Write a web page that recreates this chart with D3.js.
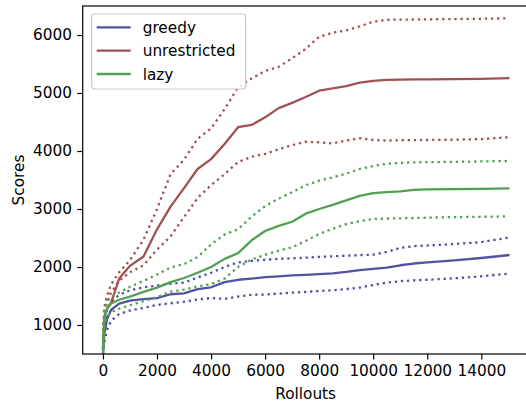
<!DOCTYPE html>
<html>
<head>
<meta charset="utf-8">
<script src="https://cdn.jsdelivr.net/npm/d3@7"></script>
<style>
  html, body { margin: 0; padding: 0; background: #fff; }
  svg { display: block; }
  text { font-family: "DejaVu Sans", sans-serif; fill: #000; }
</style>
</head>
<body>
<svg id="chart" width="526" height="406"></svg>
<script>
// ---- data ----
const rollouts = [0, 50, 150, 300, 600, 1000, 1500, 2000, 2500, 3000, 3500, 4000, 4500, 5000, 5500, 6000, 6500, 7000, 7500, 8000, 8500, 9000, 9500, 10000, 10500, 11000, 11500, 12000, 13000, 14000, 15000];

const greedyMean = [500, 850, 1100, 1260, 1370, 1420, 1445, 1465, 1530, 1545, 1620, 1650, 1740, 1780, 1800, 1825, 1840, 1855, 1865, 1878, 1890, 1915, 1945, 1966, 1990, 2030, 2060, 2078, 2115, 2155, 2205];
const greedyHigh = [600, 1000, 1250, 1400, 1520, 1600, 1650, 1680, 1710, 1730, 1820, 1900, 2000, 2080, 2105, 2125, 2140, 2150, 2160, 2175, 2185, 2195, 2205, 2212, 2260, 2330, 2360, 2370, 2395, 2430, 2505];
const greedyLow = [500, 700, 920, 1070, 1190, 1250, 1295, 1345, 1375, 1400, 1440, 1465, 1450, 1490, 1520, 1525, 1540, 1558, 1570, 1585, 1600, 1620, 1645, 1690, 1730, 1755, 1770, 1780, 1805, 1840, 1885];

const unrestrictedMean = [600, 1150, 1280, 1380, 1800, 2020, 2180, 2650, 3040, 3360, 3690, 3860, 4120, 4410, 4450, 4580, 4740, 4830, 4930, 5040, 5080, 5120, 5180, 5210, 5225, 5230, 5235, 5236, 5240, 5245, 5255];
const unrestrictedHigh = [900, 1300, 1500, 1700, 1910, 2120, 2470, 3000, 3600, 3850, 4210, 4390, 4720, 5100, 5250, 5380, 5450, 5600, 5760, 5970, 6040, 6080, 6150, 6230, 6262, 6265, 6268, 6270, 6275, 6280, 6287];
const unrestrictedLow = [800, 1150, 1400, 1560, 1760, 1910, 2030, 2300, 2530, 2860, 3190, 3410, 3600, 3810, 3900, 3950, 4030, 4100, 4160, 4150, 4130, 4180, 4220, 4190, 4180, 4185, 4188, 4190, 4195, 4205, 4236];

const lazyMean = [500, 1100, 1280, 1370, 1435, 1490, 1570, 1645, 1740, 1810, 1900, 2000, 2140, 2240, 2460, 2620, 2710, 2780, 2920, 3000, 3070, 3150, 3225, 3275, 3290, 3305, 3330, 3338, 3341, 3348, 3356];
const lazyHigh = [700, 1250, 1400, 1480, 1560, 1660, 1760, 1870, 1990, 2050, 2170, 2390, 2560, 2650, 2870, 3050, 3180, 3290, 3410, 3490, 3545, 3610, 3690, 3740, 3780, 3795, 3805, 3808, 3813, 3820, 3828];
const lazyLow = [550, 1000, 1150, 1220, 1280, 1340, 1410, 1480, 1575, 1610, 1665, 1705, 1800, 2000, 2130, 2210, 2280, 2340, 2450, 2570, 2660, 2740, 2790, 2828, 2835, 2840, 2845, 2850, 2860, 2866, 2873];

const seriesNames = ["greedy", "unrestricted", "lazy"];
const xTicks = [0, 2000, 4000, 6000, 8000, 10000, 12000, 14000];
const yTicks = [1000, 2000, 3000, 4000, 5000, 6000];
const xLabel = "Rollouts";
const yLabel = "Scores";

// ---- styling / layout ----
const colors = { greedy: "#5252a0", unrestricted: "#a05252", lazy: "#52a052" };
const series = [
  { name: "greedy", mean: greedyMean, low: greedyLow, high: greedyHigh },
  { name: "unrestricted", mean: unrestrictedMean, low: unrestrictedLow, high: unrestrictedHigh },
  { name: "lazy", mean: lazyMean, low: lazyLow, high: lazyHigh }
];

const FS = 15.3;
const svg = d3.select("#chart");
const pLeft = 82.7, pRight = 528.6, pTop = 6, pBottom = 354;

const x = d3.scaleLinear().domain([-750, 15750]).range([pLeft, pRight]);
const y = d3.scaleLinear().domain([500, 6500]).range([pBottom, pTop]);

svg.append("defs").append("clipPath").attr("id", "clip")
  .append("rect").attr("x", pLeft).attr("y", pTop)
  .attr("width", pRight - pLeft).attr("height", pBottom - pTop);

const plot = svg.append("g").attr("clip-path", "url(#clip)");

const line = d3.line().x((d, i) => x(rollouts[i])).y(d => y(d));

series.forEach(s => {
  const c = colors[s.name];
  [s.high, s.low].forEach(arr => {
    plot.append("path").attr("d", line(arr))
      .attr("fill", "none").attr("stroke", c).attr("stroke-width", 2.3)
      .attr("stroke-dasharray", "2.3,3.8").attr("stroke-linejoin", "round");
  });
  plot.append("path").attr("d", line(s.mean))
    .attr("fill", "none").attr("stroke", c).attr("stroke-width", 2.3)
    .attr("stroke-linejoin", "round").attr("stroke-linecap", "square");
});

// axes
const xAxis = d3.axisBottom(x).tickValues(xTicks).tickSize(5.4).tickPadding(5.4).tickFormat(d3.format("d"));
const yAxis = d3.axisLeft(y).tickValues(yTicks).tickSize(5.4).tickPadding(5.4).tickFormat(d3.format("d"));

const gx = svg.append("g").attr("transform", `translate(0,${pBottom})`).call(xAxis);
const gy = svg.append("g").attr("transform", `translate(${pLeft},0)`).call(yAxis);
[gx, gy].forEach(g => {
  g.select(".domain").remove();
  g.selectAll(".tick line").attr("stroke", "#000").attr("stroke-width", 1.2);
  g.selectAll(".tick text").attr("font-size", FS).attr("font-family", "DejaVu Sans").attr("fill", "#000");
});

// spines
svg.append("rect").attr("x", pLeft).attr("y", pTop)
  .attr("width", pRight - pLeft).attr("height", pBottom - pTop)
  .attr("fill", "none").attr("stroke", "#000").attr("stroke-width", 1.2);

// labels
svg.append("text").attr("x", (pLeft + pRight) / 2).attr("y", 399)
  .attr("text-anchor", "middle").attr("font-size", FS).text(xLabel);
svg.append("text").attr("transform", `translate(23.5,${(pTop + pBottom) / 2}) rotate(-90)`)
  .attr("text-anchor", "middle").attr("font-size", FS).text(yLabel);

// legend
const lg = svg.append("g");
lg.append("rect").attr("x", 91.7).attr("y", 14).attr("width", 154).attr("height", 75)
  .attr("rx", 3).attr("fill", "#fff").attr("fill-opacity", 0.8)
  .attr("stroke", "#cccccc").attr("stroke-width", 1.2);
seriesNames.forEach((n, i) => {
  const yy = 27.3 + i * 23.35;
  lg.append("line").attr("x1", 96.7).attr("x2", 130.7).attr("y1", yy).attr("y2", yy)
    .attr("stroke", colors[n]).attr("stroke-width", 2.3);
  lg.append("text").attr("x", 142.7).attr("y", yy + 5.5).attr("font-size", FS).text(n);
});
</script>
</body>
</html>
